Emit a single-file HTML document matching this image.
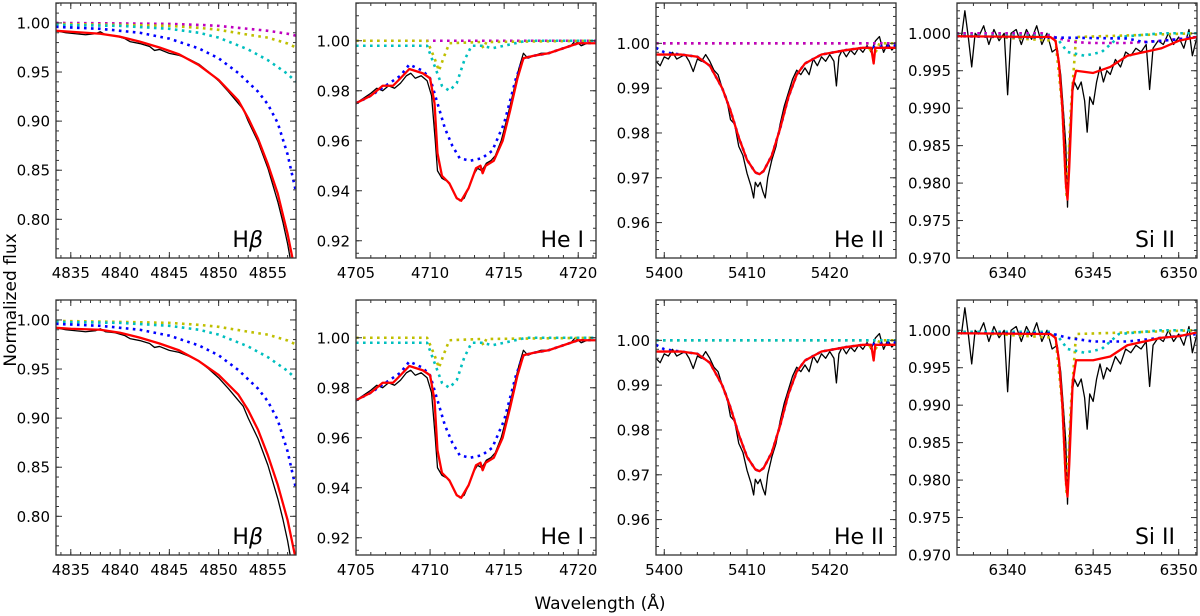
<!DOCTYPE html>
<html><head><meta charset="utf-8">
<style>
html,body{margin:0;padding:0;background:#fff;}
svg{display:block;font-family:"DejaVu Sans","Liberation Sans",sans-serif;}
</style></head>
<body>
<svg id="fig" width="1200" height="616" viewBox="0 0 1200 616" xmlns="http://www.w3.org/2000/svg">
<text x="600" y="609" font-size="17" text-anchor="middle">Wavelength (Å)</text>
<text x="0" y="0" font-size="17" text-anchor="middle" transform="translate(16,300) rotate(-90)">Normalized flux</text>
</svg>
<script>
// ---------- H-beta ----------
const hbXTicks=[4835,4840,4845,4850,4855];
const hbYTicks=[0.80,0.85,0.90,0.95,1.00];
const hbObsW=[4833.5,4834.5,4835.5,4836.5,4837.5,4838,4838.5,4839.5,4840.5,4841,4842,4843,4843.5,4844,4845,4846,4847,4848,4849,4850,4851,4852,4852.5,4853,4854,4855,4856,4856.5,4857,4857.3,4857.6];
const hbObs=[0.992,0.990,0.989,0.988,0.989,0.991,0.988,0.987,0.984,0.981,0.979,0.976,0.972,0.973,0.969,0.967,0.963,0.958,0.950,0.941,0.930,0.918,0.912,0.900,0.879,0.852,0.818,0.798,0.775,0.758,0.740];
const hbModelW=[4833.5,4835,4838,4840,4842,4844,4846,4848,4850,4852,4853,4854,4855,4856,4857,4857.5,4858];
const hbModelTop=[0.992,0.991,0.989,0.986,0.981,0.975,0.968,0.957,0.942,0.921,0.903,0.882,0.856,0.826,0.785,0.760,0.735];
const hbModelBot=[0.992,0.991,0.990,0.987,0.982,0.976,0.969,0.958,0.944,0.924,0.908,0.888,0.862,0.832,0.796,0.772,0.748];
const hbBlueW=[4833.5,4838,4842,4845,4848,4850,4852,4854,4855,4856,4857,4857.4,4857.85];
const hbBlue=[0.996,0.994,0.990,0.984,0.974,0.964,0.949,0.930,0.917,0.898,0.866,0.848,0.828];
const hbCompW=[4833.5,4840,4845,4848,4850,4853,4855,4857,4857.85];
const hbCyan=[0.998,0.997,0.994,0.990,0.985,0.973,0.962,0.948,0.940];
const hbYellow=[0.999,0.998,0.997,0.995,0.993,0.988,0.985,0.979,0.975];
const hbMagenta=[1.0,0.9995,0.999,0.998,0.997,0.994,0.992,0.989,0.987];
// ---------- He I ----------
const he1XTicks=[4705,4710,4715,4720];
const he1YTicks=[0.92,0.94,0.96,0.98,1.00];
const he1ObsW=[4705,4705.5,4706,4706.4,4706.8,4707.2,4707.6,4708,4708.4,4708.7,4709,4709.4,4709.8,4710.1,4710.35,4710.5,4710.8,4711.1,4711.4,4711.7,4712,4712.3,4712.6,4712.9,4713.2,4713.5,4713.8,4714.1,4714.4,4714.8,4715.2,4715.6,4716,4716.3,4716.6,4717,4717.5,4718,4718.5,4719,4719.5,4719.8,4720.2,4720.6,4721.2];
const he1Obs=[0.975,0.977,0.979,0.981,0.980,0.982,0.981,0.983,0.986,0.987,0.985,0.986,0.984,0.978,0.960,0.948,0.945,0.944,0.942,0.938,0.936,0.937,0.941,0.946,0.949,0.948,0.951,0.952,0.954,0.960,0.969,0.979,0.989,0.995,0.993,0.994,0.995,0.995,0.996,0.997,0.998,1.000,0.998,0.999,0.999];
const he1ModelW=[4705,4706,4706.8,4707.5,4708,4708.6,4709.5,4710,4710.3,4710.5,4710.8,4711.3,4711.8,4712.1,4712.6,4713.1,4713.4,4713.55,4713.75,4714.3,4714.9,4715.4,4715.9,4716.3,4717,4718,4719,4720,4721.2];
const he1Model=[0.975,0.978,0.982,0.982,0.985,0.9887,0.987,0.985,0.975,0.955,0.946,0.943,0.937,0.936,0.941,0.949,0.950,0.947,0.950,0.952,0.960,0.972,0.985,0.993,0.994,0.995,0.997,0.999,0.999];
const he1BlueW=[4705,4706,4707,4708,4708.6,4709.5,4710,4710.5,4711,4711.5,4712,4712.7,4713.5,4714.2,4715,4715.8,4716.3,4717,4718,4719,4720,4721.2];
const he1Blue=[0.975,0.978,0.982,0.986,0.9905,0.988,0.985,0.975,0.965,0.958,0.953,0.952,0.953,0.956,0.967,0.985,0.993,0.994,0.995,0.997,0.999,0.999];
const he1CyanW=[4705,4709.8,4710.3,4710.8,4711.3,4711.8,4712.3,4712.8,4713.5,4714.2,4715,4716.5,4721.2];
const he1Cyan=[0.998,0.998,0.990,0.982,0.980,0.983,0.992,0.998,0.998,0.997,0.998,1.0,1.0];
const he1YellowW=[4705,4709.8,4710.3,4710.6,4710.9,4711.3,4713.4,4713.6,4713.8,4721.2];
const he1Yellow=[1.0,1.0,0.993,0.988,0.993,0.999,0.9995,0.997,0.9995,1.0];
const he1MagW=[4705,4721.2];
const he1Magenta=[1.0,1.0];
// ---------- He II ----------
const he2XTicks=[5400,5410,5420];
const he2YTicks=[0.96,0.97,0.98,0.99,1.00];
const he2ObsW=[5399,5399.5,5400,5400.5,5401,5401.5,5402,5402.5,5403,5403.5,5404,5404.5,5405,5405.5,5406,5406.5,5407,5407.5,5408,5408.5,5409,5409.5,5410,5410.5,5410.8,5411,5411.3,5411.6,5411.9,5412.2,5412.5,5413,5413.5,5414,5414.5,5415,5415.5,5416,5416.5,5417,5417.5,5418,5418.5,5419,5419.5,5420,5420.5,5420.8,5421.1,5421.5,5422,5422.5,5423,5423.5,5424,5424.5,5425,5425.5,5426,5426.5,5427,5427.5,5428];
const he2Obs=[0.996,0.995,0.997,0.9965,0.998,0.9965,0.997,0.9975,0.996,0.9937,0.9965,0.996,0.9975,0.996,0.994,0.993,0.990,0.988,0.983,0.982,0.977,0.975,0.971,0.968,0.9655,0.969,0.968,0.969,0.967,0.9655,0.970,0.974,0.977,0.982,0.986,0.989,0.992,0.994,0.993,0.9945,0.993,0.9965,0.995,0.997,0.996,0.9975,0.996,0.9905,0.997,0.9985,0.997,0.9985,0.9975,0.999,0.998,0.9995,0.998,1.0005,1.0015,0.998,1.000,0.9985,0.9995];
const he2ModelW=[5399,5402,5404,5405.5,5407,5408,5409,5410,5411,5411.5,5412,5413,5414,5415,5416,5417,5419,5422,5424,5425,5425.3,5425.5,5428];
const he2Model=[0.9975,0.9975,0.997,0.995,0.990,0.985,0.979,0.974,0.9712,0.9708,0.9715,0.975,0.981,0.988,0.993,0.9955,0.9975,0.9985,0.999,0.999,0.9955,0.999,0.999];
const he2BlueW=[5399,5400,5402,5404,5405.5,5407,5408,5409,5410,5411,5411.5,5412,5413,5414,5415,5416,5417,5419,5422,5424,5428];
const he2Blue=[0.999,0.998,0.9975,0.997,0.995,0.990,0.985,0.979,0.974,0.9712,0.9708,0.9715,0.975,0.981,0.988,0.993,0.9955,0.9975,0.9985,0.999,0.9995];
const he2FlatW=[5399,5424.5,5425.3,5426,5428];
const he2Yellow=[1.0,1.0,0.997,1.0,1.0];
const he2Flat=[1.0,1.0,1.0,1.0,1.0];
// ---------- Si II ----------
const siXTicks=[6340,6345,6350];
const siYTicks=[0.970,0.975,0.980,0.985,0.990,0.995,1.000];
const siObsW=[6337.0,6337.3,6337.5,6337.7,6337.9,6338.1,6338.3,6338.6,6338.9,6339.2,6339.5,6339.8,6340.0,6340.2,6340.5,6340.8,6341.1,6341.4,6341.7,6342.0,6342.3,6342.6,6342.9,6343.1,6343.25,6343.4,6343.5,6343.6,6343.75,6343.9,6344.1,6344.3,6344.5,6344.65,6344.8,6345.0,6345.2,6345.4,6345.6,6345.8,6346.0,6346.3,6346.6,6346.9,6347.2,6347.5,6347.8,6348.1,6348.3,6348.5,6348.8,6349.1,6349.4,6349.7,6350.0,6350.3,6350.6,6350.8,6351.07];
const siObs=[1.000,0.9995,1.003,0.9995,0.9955,1.000,0.9995,1.001,0.9985,1.0005,0.999,1.000,0.9918,1.000,1.0005,0.9985,1.0005,0.9992,1.001,0.9985,1.000,0.9975,0.998,0.9945,0.990,0.985,0.9768,0.985,0.9915,0.9935,0.9925,0.9935,0.991,0.9868,0.9915,0.9905,0.9935,0.9955,0.9935,0.995,0.9945,0.9965,0.9955,0.9975,0.997,0.998,0.9975,0.9985,0.9925,0.998,0.999,0.9985,1.000,0.9985,0.9995,0.998,1.0005,0.997,0.9995];
const siModelW=[6337,6342.5,6342.8,6343,6343.2,6343.4,6343.5,6343.6,6343.8,6344,6345,6346,6347,6348,6349,6350,6351.07];
const siModelTop=[0.9996,0.9995,0.999,0.996,0.990,0.980,0.9778,0.982,0.993,0.995,0.9947,0.9955,0.997,0.9975,0.998,0.999,0.9995];
const siModelBot=[0.9996,0.9995,0.999,0.996,0.990,0.980,0.9778,0.982,0.993,0.996,0.996,0.9965,0.998,0.9985,0.999,0.9992,0.9997];
const siCyanW=[6337,6342.5,6343,6343.5,6344.5,6345.5,6346,6346.5,6349,6351.07];
const siCyan=[0.9998,0.9998,0.999,0.9975,0.997,0.9975,0.9985,0.9995,1.0,1.0];
const siYellowW=[6337,6342.8,6343.2,6343.45,6343.7,6344,6351.07];
const siYellow=[0.9998,0.999,0.990,0.978,0.990,0.9995,1.0];
const siMagW=[6337,6342,6343,6344,6345,6347,6349,6351.07];
const siMagenta=[1.0,1.0,0.9993,0.9988,0.9987,0.9987,0.999,0.9995];
const siBlueTopW=[6337,6347,6348,6349,6350,6351.07];
const siBlueTop=[0.9996,0.9993,0.9988,0.999,0.9992,0.9995];
const siBlueBotW=[6337,6342.5,6343.5,6345,6347,6349,6351.07];
const siBlueBot=[0.9996,0.9996,0.999,0.9985,0.9985,0.999,0.9995];

const C={r:'#ff0000',b:'#0000ff',c:'#00bfbf',y:'#bfbf00',m:'#bf00bf',k:'#000000'};
const NS='http://www.w3.org/2000/svg';
const svg=document.getElementById('fig');
const colsX=[56,356,656,957], W=240, rowsY=[3,300], H=255;

const panels=[
 {id:'hbeta-top',col:0,row:0,xl:[4833.5,4857.85],yl:[0.7606,1.0203],xt:hbXTicks,yt:hbYTicks,xm:1,ym:0.01,dec:2,label:'Hβ',lx:33,
  series:[[hbObsW,hbObs,'k','observed'],[hbCompW,hbMagenta,'m','magenta-component'],[hbCompW,hbYellow,'y','yellow-component'],[hbCompW,hbCyan,'c','cyan-component'],[hbBlueW,hbBlue,'b','blue-component'],[hbModelW,hbModelTop,'r','model']]},
 {id:'hei-top',col:1,row:0,xl:[4705,4721.2],yl:[0.9131,1.0151],xt:he1XTicks,yt:he1YTicks,xm:1,ym:0.005,dec:2,label:'He I',lx:12,
  series:[[he1ObsW,he1Obs,'k','observed'],[he1MagW,he1Magenta,'m','magenta-component'],[he1YellowW,he1Yellow,'y','yellow-component'],[he1CyanW,he1Cyan,'c','cyan-component'],[he1BlueW,he1Blue,'b','blue-component'],[he1ModelW,he1Model,'r','model']]},
 {id:'heii-top',col:2,row:0,xl:[5399,5428],yl:[0.9521,1.009],xt:he2XTicks,yt:he2YTicks,xm:2,ym:0.002,dec:2,label:'He II',lx:12,
  series:[[he2ObsW,he2Obs,'k','observed'],[he2FlatW,he2Yellow,'y','yellow-component'],[he2FlatW,he2Flat,'m','magenta-component'],[he2BlueW,he2Blue,'b','blue-component'],[he2ModelW,he2Model,'r','model']]},
 {id:'siii-top',col:3,row:0,xl:[6337.04,6351.07],yl:[0.970,1.00404],xt:siXTicks,yt:siYTicks,xm:1,ym:0.001,dec:3,label:'Si II',lx:22,
  series:[[siObsW,siObs,'k','observed'],[siYellowW,siYellow,'y','yellow-component'],[siCyanW,siCyan,'c','cyan-component'],[siMagW,siMagenta,'m','magenta-component'],[siBlueTopW,siBlueTop,'b','blue-component'],[siModelW,siModelTop,'r','model']]},
 {id:'hbeta-bottom',col:0,row:1,xl:[4833.5,4857.85],yl:[0.7606,1.0203],xt:hbXTicks,yt:hbYTicks,xm:1,ym:0.01,dec:2,label:'Hβ',lx:33,
  series:[[hbObsW,hbObs,'k','observed'],[hbCompW,hbYellow,'y','yellow-component'],[hbCompW,hbCyan,'c','cyan-component'],[hbBlueW,hbBlue,'b','blue-component'],[hbModelW,hbModelBot,'r','model']]},
 {id:'hei-bottom',col:1,row:1,xl:[4705,4721.2],yl:[0.9131,1.0151],xt:he1XTicks,yt:he1YTicks,xm:1,ym:0.005,dec:2,label:'He I',lx:12,
  series:[[he1ObsW,he1Obs,'k','observed'],[he1YellowW,he1Yellow,'y','yellow-component'],[he1CyanW,he1Cyan,'c','cyan-component'],[he1BlueW,he1Blue,'b','blue-component'],[he1ModelW,he1Model,'r','model']]},
 {id:'heii-bottom',col:2,row:1,xl:[5399,5428],yl:[0.9521,1.009],xt:he2XTicks,yt:he2YTicks,xm:2,ym:0.002,dec:2,label:'He II',lx:12,
  series:[[he2ObsW,he2Obs,'k','observed'],[he2FlatW,he2Yellow,'y','yellow-component'],[he2FlatW,he2Flat,'c','cyan-component'],[he2BlueW,he2Blue,'b','blue-component'],[he2ModelW,he2Model,'r','model']]},
 {id:'siii-bottom',col:3,row:1,xl:[6337.04,6351.07],yl:[0.970,1.00404],xt:siXTicks,yt:siYTicks,xm:1,ym:0.001,dec:3,label:'Si II',lx:22,
  series:[[siObsW,siObs,'k','observed'],[siYellowW,siYellow,'y','yellow-component'],[siCyanW,siCyan,'c','cyan-component'],[siBlueBotW,siBlueBot,'b','blue-component'],[siModelW,siModelBot,'r','model']]}
];

function el(tag,attrs,parent){const e=document.createElementNS(NS,tag);for(const k in attrs)e.setAttribute(k,attrs[k]);parent.appendChild(e);return e;}

panels.forEach(p=>{
  const x0=colsX[p.col], y0=rowsY[p.row];
  const sx=v=>x0+(v-p.xl[0])/(p.xl[1]-p.xl[0])*W;
  const sy=v=>y0+H-(v-p.yl[0])/(p.yl[1]-p.yl[0])*H;
  const g=el('g',{},svg);
  
  
  const cp=el('clipPath',{id:'clip-'+p.id},g);
  el('rect',{x:x0,y:y0,width:W,height:H},cp);
  const plot=el('g',{'clip-path':'url(#clip-'+p.id+')'},g);
  p.series.forEach(s=>{
    const [xs,ys,col,nm]=s;
    const d=xs.map((x,i)=>(i?'L':'M')+sx(x).toFixed(2)+' '+sy(ys[i]).toFixed(2)).join(' ');
    const attrs={d:d,fill:'none',stroke:C[col],'stroke-linejoin':'round'};
    if(col==='k'){attrs['stroke-width']=1.3;}
    else if(col==='r'){attrs['stroke-width']=2.3;}
    else {attrs['stroke-width']=2.6;attrs['stroke-dasharray']='2.6 4.4';}
    const path=el('path',attrs,plot);
    
    
  });
  const fr=el('rect',{x:x0,y:y0,width:W,height:H,fill:'none',stroke:'#333','stroke-width':1.3},g);
  
  
  const tk=el('g',{stroke:'#333','stroke-width':1},g);
  const xs0=Math.ceil(p.xl[0]/p.xm)*p.xm;
  for(let v=xs0;v<=p.xl[1]+1e-9;v+=p.xm){const X=sx(v);el('line',{x1:X,x2:X,y1:y0+H,y2:y0+H-3},tk);el('line',{x1:X,x2:X,y1:y0,y2:y0+3},tk);}
  const ys0=Math.ceil(p.yl[0]/p.ym-1e-6)*p.ym;
  for(let v=ys0;v<=p.yl[1]+1e-9;v+=p.ym){const Y=sy(v);el('line',{x1:x0,x2:x0+3,y1:Y,y2:Y},tk);el('line',{x1:x0+W,x2:x0+W-3,y1:Y,y2:Y},tk);}
  p.xt.forEach(v=>{
    const X=sx(v);
    el('line',{x1:X,x2:X,y1:y0+H,y2:y0+H-6},tk);el('line',{x1:X,x2:X,y1:y0,y2:y0+6},tk);
    const t=el('text',{x:X,y:y0+H+20,'font-size':15,'text-anchor':'middle',fill:'#000'},g);
    t.textContent=String(v);
    
    
  });
  p.yt.forEach(v=>{
    const Y=sy(v);
    el('line',{x1:x0,x2:x0+6,y1:Y,y2:Y},tk);el('line',{x1:x0+W,x2:x0+W-6,y1:Y,y2:Y},tk);
    const t=el('text',{x:x0-6,y:Y+5.5,'font-size':15,'text-anchor':'end',fill:'#000'},g);
    t.textContent=v.toFixed(p.dec);
    
    
  });
  const lb=el('text',{x:x0+W-p.lx,y:y0+H-11,'font-size':22,'text-anchor':'end',fill:'#000'},g);
  if(p.label==='Hβ'){lb.textContent='H';const ts=el('tspan',{'font-style':'italic'},lb);ts.textContent='β';}
  else lb.textContent=p.label;
  
  
});
</script>
</body></html>
